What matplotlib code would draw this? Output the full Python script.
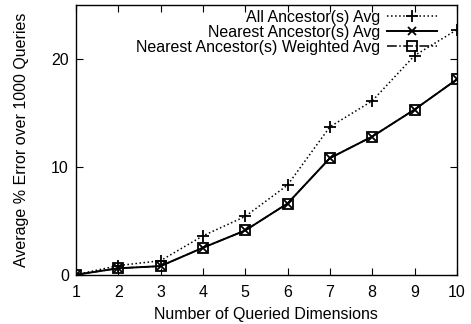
import matplotlib
matplotlib.use('Agg')
import matplotlib.pyplot as plt

plt.rcParams['font.family'] = ['Liberation Sans', 'DejaVu Sans']

# data
dims = [1, 2, 3, 4, 5, 6, 7, 8, 9, 10]
all_avg = [0.0, 0.85, 1.3, 3.6, 5.4, 8.3, 13.7, 16.1, 20.3, 22.7]
nearest_avg = [0.0, 0.6, 0.8, 2.5, 4.1, 6.6, 10.8, 12.8, 15.3, 18.1]
nearest_weighted = [0.0, 0.6, 0.8, 2.5, 4.1, 6.6, 10.8, 12.8, 15.3, 18.1]

fs = 11.5

fig = plt.figure(figsize=(4.71, 3.24), dpi=100)
ax = fig.add_axes([0.161, 0.152, 0.809, 0.833])

ax.plot(dims, all_avg, color='black', linestyle=':', linewidth=1.1,
        marker='+', markersize=8, markeredgewidth=1.3, label='All Ancestor(s) Avg')
ax.plot(dims, nearest_avg, color='black', linestyle='-', linewidth=1.4,
        marker='x', markersize=5.5, markeredgewidth=1.3, label='Nearest Ancestor(s) Avg')
ax.plot(dims, nearest_weighted, color='black', linestyle='-.', linewidth=1.1,
        marker='s', markersize=6.5, markerfacecolor='none', markeredgewidth=1.3,
        label='Nearest Ancestor(s) Weighted Avg')

ax.set_xlim(1, 10)
ax.set_ylim(0, 25)
ax.set_xticks(dims)
ax.set_yticks([0, 10, 20])
ax.tick_params(direction='in', top=True, right=True, length=5, labelsize=fs)
ax.tick_params(axis='x', pad=7.5)
ax.tick_params(axis='y', pad=5)
for s in ax.spines.values():
    s.set_linewidth(1.0)

ax.set_xlabel('Number of Queried Dimensions', fontsize=fs)
ax.set_ylabel('Average % Error over 1000 Queries', fontsize=fs)
ax.xaxis.set_label_coords(0.5, -0.12)
ax.yaxis.set_label_coords(-0.122, 0.5)

ax.legend(loc='upper right', frameon=False, markerfirst=False, fontsize=fs,
          handlelength=3.1, handletextpad=0.45, labelspacing=0.0,
          borderaxespad=0.0, borderpad=0.3, bbox_to_anchor=(0.96, 1.0))

fig.savefig('out.png', dpi=100)
